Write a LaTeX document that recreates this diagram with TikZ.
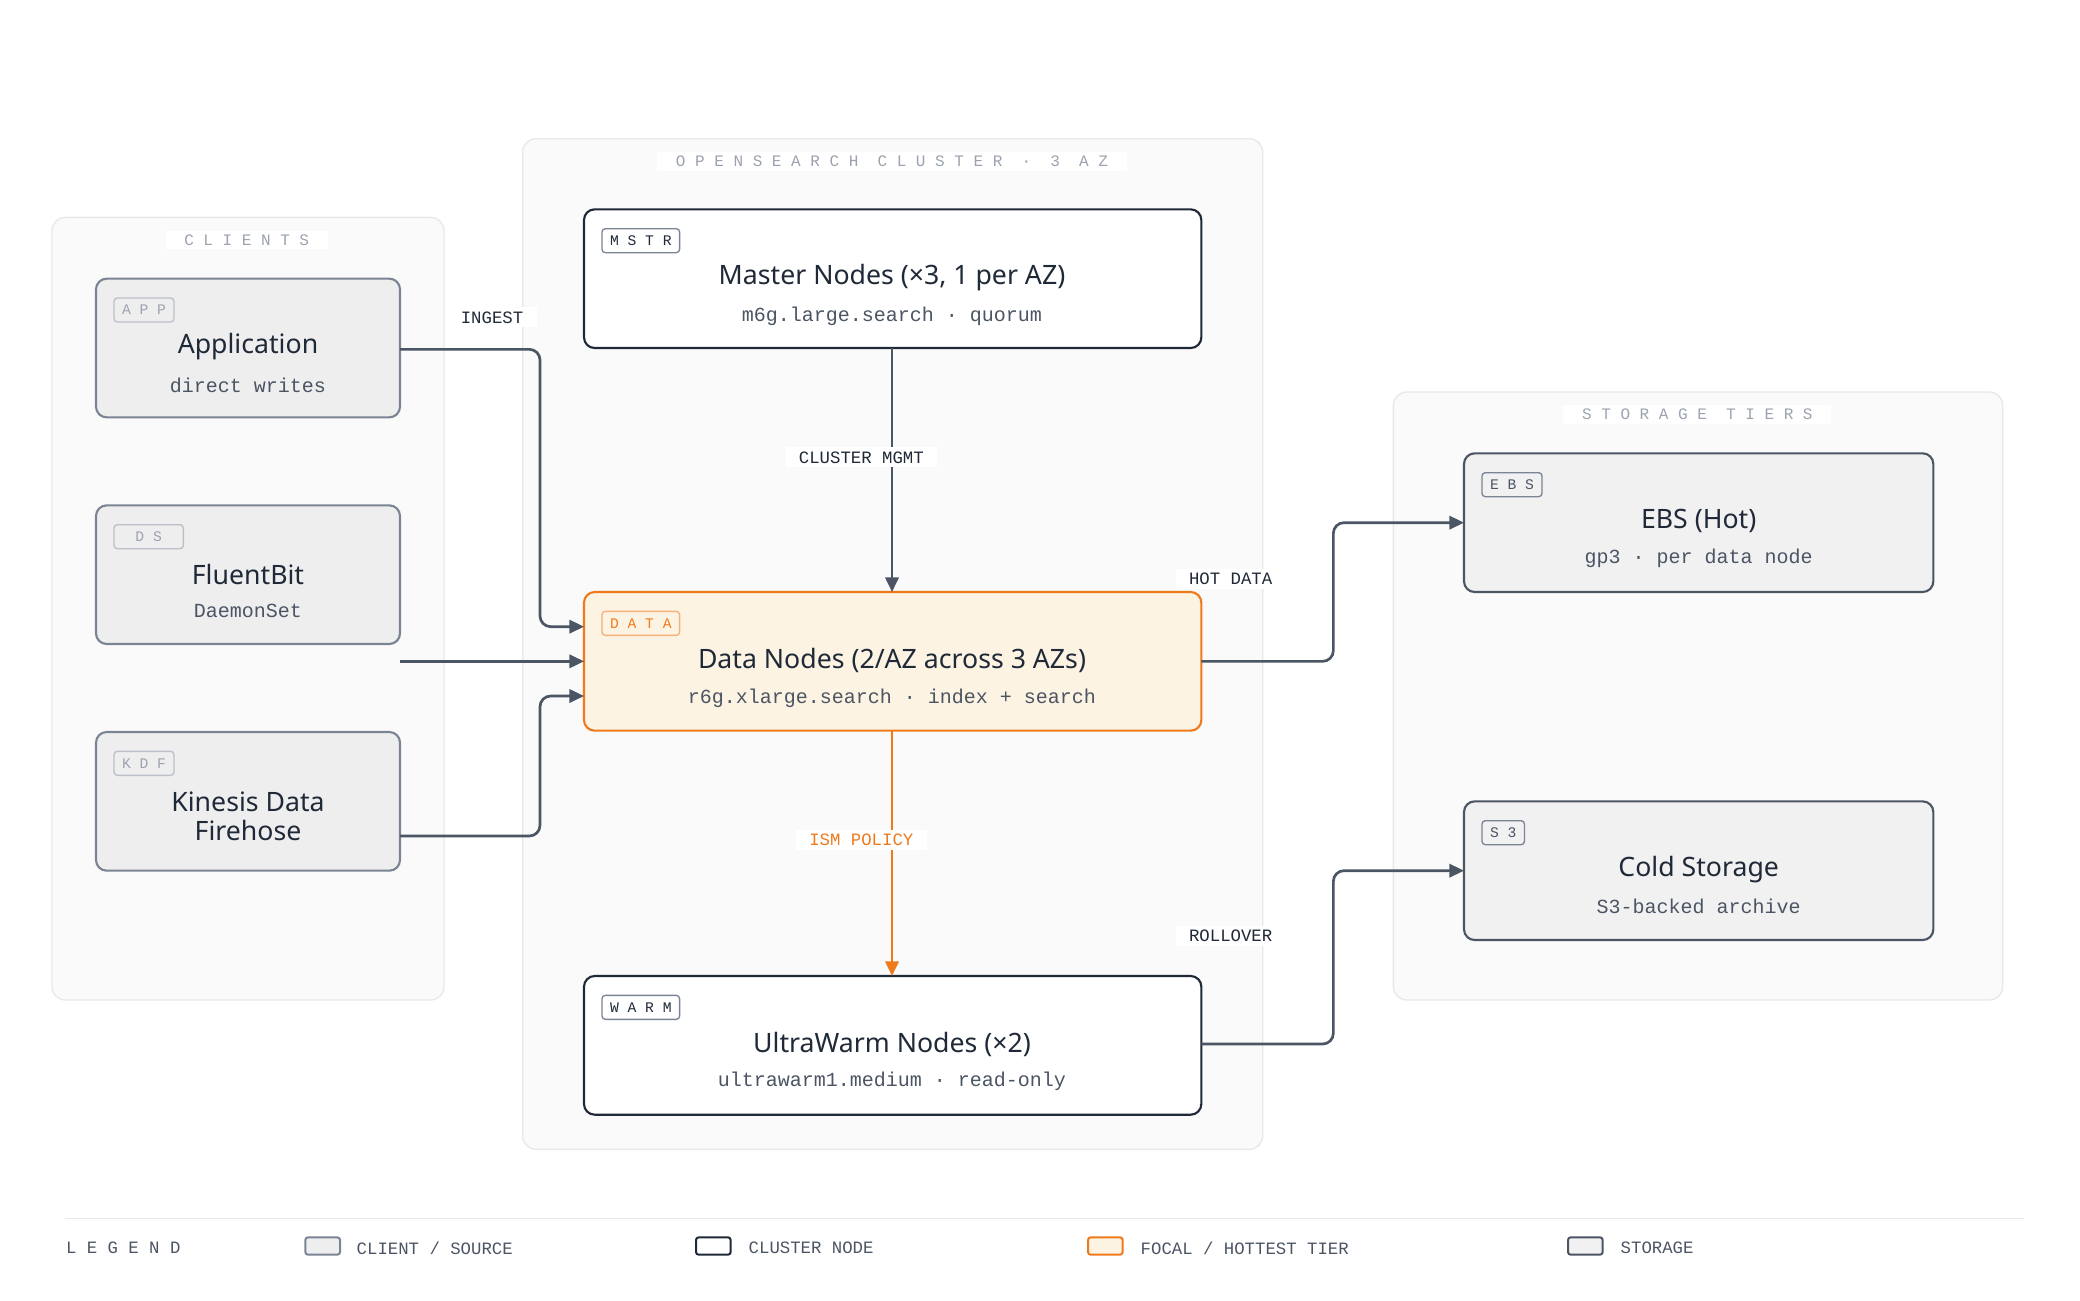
\documentclass[tikz,border=0pt]{standalone}
\usepackage{fontspec}
\setmainfont{Noto Sans}
\newfontfamily\mono{Liberation Mono}
\usetikzlibrary{arrows.meta}
\definecolor{grpfill}{HTML}{FAFAFA}
\definecolor{grpline}{HTML}{E8E8E8}
\definecolor{clfill}{HTML}{EEEEEF}
\definecolor{clline}{HTML}{7A8494}
\definecolor{dark}{HTML}{1F2937}
\definecolor{orng}{HTML}{EE7A1C}
\definecolor{ofill}{HTML}{FDF3E3}
\definecolor{stline}{HTML}{4B5563}
\definecolor{stfill}{HTML}{F1F1F2}
\definecolor{txt}{HTML}{4B5563}
\definecolor{lbl}{HTML}{9CA3AF}
\definecolor{arr}{HTML}{4B5563}
\begin{document}
\begin{tikzpicture}[x=1pt,y=-1pt,
 grp/.style={draw=grpline,fill=grpfill,line width=1pt,rounded corners=10pt},
 grplbl/.style={fill=white,inner xsep=14pt,inner ysep=3pt,text=lbl,font=\mono\fontsize{12}{12}\selectfont},
 box/.style={rounded corners=8pt,line width=1.6pt},
 client/.style={box,draw=clline,fill=clfill},
 cluster/.style={box,draw=dark,fill=white},
 focal/.style={box,draw=orng,fill=ofill},
 store/.style={box,draw=stline,fill=stfill},
 tag/.style={rounded corners=2.5pt,line width=1pt,minimum height=18pt,inner xsep=6pt,font=\mono\fontsize{11}{11}\selectfont},
 ttl/.style={font=\bfseries\fontsize{20}{24}\selectfont,text=dark,align=center},
 sub/.style={font=\mono\fontsize{15}{15}\selectfont,text=txt},
 conn/.style={draw=arr,line width=2pt,rounded corners=8pt,-{Triangle[length=11pt,width=10pt]}},
 elbl/.style={fill=white,inner xsep=10pt,inner ysep=3pt,text=dark,font=\mono\fontsize{13}{13}\selectfont},
 leg/.style={font=\mono\fontsize{13}{13}\selectfont,text=txt,anchor=west}]
\useasboundingbox (0,0) rectangle (1560,975);
% groups
\draw[grp] (39,163) rectangle (333,750);
\node[grplbl] (gcl) at (185,180) {C L I E N T S};
\draw[grp] (392,104) rectangle (947,862);
\node[grplbl] (gos) at (669,121) {O P E N S E A R C H \ C L U S T E R \ · \ 3 \ A Z};
\draw[grp] (1045,294) rectangle (1502,750);
\node[grplbl] (gst) at (1273,311) {S T O R A G E \ T I E R S};
% clients
\draw[client] (72,209) rectangle (300,313);
\coordinate (appR) at (300,262);
\node[tag,draw=lbl!70,text=lbl,anchor=north west] (tapp) at (85,223) {A P P};
\node[ttl] (napp) at (186,260) {Application};
\node[sub] (sapp) at (186,289) {direct writes};
\draw[client] (72,379) rectangle (300,483);
\coordinate (fbR) at (300,496);
\node[tag,draw=lbl!70,text=lbl,anchor=north west,minimum width=52pt] (tds) at (85,393) {D S};
\node[ttl] (nfb) at (186,431) {FluentBit};
\node[sub] (sfb) at (186,458) {DaemonSet};
\draw[client] (72,549) rectangle (300,653);
\coordinate (kdR) at (300,627);
\node[tag,draw=lbl!70,text=lbl,anchor=north west] (tkdf) at (85,563) {K D F};
\node[ttl] (nkd) at (186,612) {Kinesis Data\\[-2pt]Firehose};
% cluster
\draw[cluster] (438,157) rectangle (901,261);
\coordinate (mB) at (669,261);
\node[tag,draw=clline,text=dark,anchor=north west] (tm) at (451,171) {M S T R};
\node[ttl] (nm) at (669,208) {Master Nodes (×3, 1 per AZ)};
\node[sub] (sm) at (669,237) {m6g.large.search · quorum};
\draw[focal] (438,444) rectangle (901,548);
\coordinate (dT) at (669,444);\coordinate (dB) at (669,548);\coordinate (dR) at (901,496);
\coordinate (dL1) at (438,470);\coordinate (dL2) at (438,496);\coordinate (dL3) at (438,522);
\node[tag,draw=orng!60,text=orng,anchor=north west] (td) at (451,458) {D A T A};
\node[ttl] (nd) at (669,495) {Data Nodes (2/AZ across 3 AZs)};
\node[sub] (sd) at (669,524) {r6g.xlarge.search · index + search};
\draw[cluster] (438,732) rectangle (901,836);
\coordinate (wT) at (669,732);\coordinate (wR) at (901,783);
\node[tag,draw=clline,text=dark,anchor=north west] (tw) at (451,746) {W A R M};
\node[ttl] (nw) at (669,783) {UltraWarm Nodes (×2)};
\node[sub] (sw) at (669,811) {ultrawarm1.medium · read-only};
% storage
\draw[store] (1098,340) rectangle (1450,444);
\coordinate (eL) at (1098,392);
\node[tag,draw=clline,text=txt,anchor=north west] (te) at (1111,354) {E B S};
\node[ttl] (ne) at (1274,391) {EBS (Hot)};
\node[sub] (se) at (1274,419) {gp3 · per data node};
\draw[store] (1098,601) rectangle (1450,705);
\coordinate (cL) at (1098,653);
\node[tag,draw=clline,text=txt,anchor=north west] (tc) at (1111,615) {S 3};
\node[ttl] (nc) at (1274,652) {Cold Storage};
\node[sub] (sc) at (1274,680) {S3-backed archive};
% connectors
\draw[conn] (appR) -| (405,470) -- (dL1);
\draw[conn] (fbR) -- (dL2);
\draw[conn] (kdR) -| (405,522) -- (dL3);
\draw[conn] (mB) -- (dT);
\draw[conn,draw=orng,-{Triangle[length=11pt,width=10pt,fill=orng]}] (dB) -- (wT);
\draw[conn] (dR) -| (1000,392) -- (eL);
\draw[conn] (wR) -| (1000,653) -- (cL);
\node[elbl] (lin) at (369,238) {INGEST};
\node[elbl] (lcm) at (646,343) {CLUSTER MGMT};
\node[elbl,text=orng] (lism) at (646,630) {ISM POLICY};
\node[elbl] (lhot) at (923,434) {HOT DATA};
\node[elbl] (lro) at (923,702) {ROLLOVER};
% legend
\draw[grpline,line width=1.2pt] (49,914) -- (1518,914);
\node[leg,text=txt] (lg) at (46,936) {L E G E N D};
\draw[rounded corners=2pt,line width=1.5pt,draw=clline,fill=clfill] (229,928) rectangle (255,941);
\node[leg] (l1) at (264,936) {CLIENT / SOURCE};
\draw[rounded corners=2pt,line width=1.5pt,draw=dark,fill=white] (522,928) rectangle (548,941);
\node[leg] (l2) at (558,936) {CLUSTER NODE};
\draw[rounded corners=2pt,line width=1.5pt,draw=orng,fill=ofill] (816,928) rectangle (842,941);
\node[leg] (l3) at (852,936) {FOCAL / HOTTEST TIER};
\draw[rounded corners=2pt,line width=1.5pt,draw=stline,fill=stfill] (1176,928) rectangle (1202,941);
\node[leg] (l4) at (1212,936) {STORAGE};
\end{tikzpicture}
\end{document}
